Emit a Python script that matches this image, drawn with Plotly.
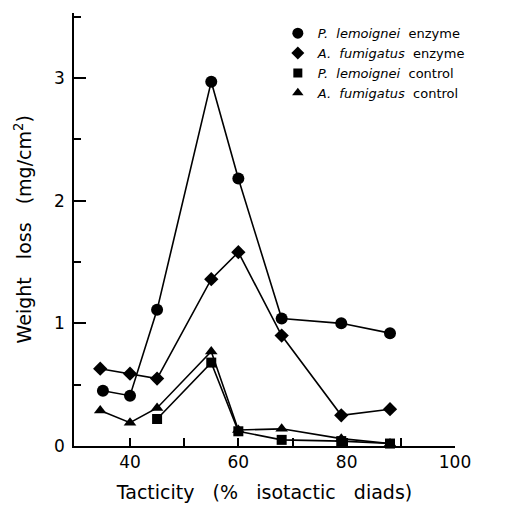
import plotly.graph_objects as go

# Data
x_ple = [35, 40, 45, 55, 60, 68, 79, 88]
y_ple = [0.45, 0.41, 1.11, 2.97, 2.18, 1.04, 1.00, 0.92]

x_afe = [34.5, 40, 45, 55, 60, 68, 79, 88]
y_afe = [0.63, 0.59, 0.55, 1.36, 1.58, 0.90, 0.25, 0.30]

x_plc = [45, 55, 60, 68, 79, 88]
y_plc = [0.22, 0.68, 0.12, 0.05, 0.04, 0.02]

x_afc = [34.5, 40, 45, 55, 60, 68, 79, 88]
y_afc = [0.29, 0.19, 0.31, 0.77, 0.13, 0.14, 0.06, 0.02]

names = ["<i>P.  lemoignei</i>  enzyme", "<i>A.  fumigatus</i>  enzyme",
         "<i>P.  lemoignei</i>  control", "<i>A.  fumigatus</i>  control"]
symbols = ["circle", "diamond", "square", "triangle-up"]
sizes = [12, 11, 10, 11]

x_ticks = [40, 60, 80, 100]
x_minor = [50, 70, 90]
y_ticks = [0, 1, 2, 3]

fig = go.Figure()
series = [(x_ple, y_ple), (x_afe, y_afe), (x_plc, y_plc), (x_afc, y_afc)]
for (xs, ys), sym, sz in zip(series, symbols, sizes):
    fig.add_trace(go.Scatter(x=xs, y=ys, mode="lines+markers",
                             line=dict(color="black", width=1.6),
                             marker=dict(symbol=sym, size=sz, color="black"),
                             showlegend=False, cliponaxis=False))
# legend proxies (markers only)
for name, sym, sz in zip(names, symbols, sizes):
    fig.add_trace(go.Scatter(x=[None], y=[None], mode="markers", name=name,
                             marker=dict(symbol=sym, size=sz - 1, color="black")))

font = "DejaVu Sans"
fig.update_layout(
    width=511, height=500,
    margin=dict(l=66, r=64, t=5, b=62),
    paper_bgcolor="white", plot_bgcolor="white",
    font=dict(family=font, color="black", size=17),
    showlegend=True,
    legend=dict(x=0.535, y=0.988, xanchor="left", yanchor="top",
                font=dict(size=13, family=font), bgcolor="rgba(0,0,0,0)",
                tracegroupgap=0, itemwidth=30),
    xaxis=dict(range=[29.66, 100], showline=True, linecolor="black", linewidth=1.5,
               ticks="inside", ticklen=8, tickwidth=1.5, tickcolor="black",
               tickvals=x_ticks, showgrid=False, zeroline=False,
               minor=dict(tickvals=x_minor, ticks="inside", ticklen=8, tickwidth=1.5,
                          tickcolor="black", showgrid=False),
               title=dict(text="Tacticity   (%   isotactic   diads)", font=dict(size=19), standoff=15)),
    yaxis=dict(range=[0, 3.53], showline=True, linecolor="black", linewidth=1.5,
               ticks="inside", ticklen=12, tickwidth=1.5, tickcolor="black",
               tickvals=y_ticks, showgrid=False, zeroline=False, ticklabelstandoff=4,
               minor=dict(dtick=0.5, tick0=0, ticks="inside", ticklen=7, tickwidth=1.5,
                          tickcolor="black", showgrid=False)),
    annotations=[dict(text="Weight   loss   (mg/cm<sup>2</sup>)", textangle=-90,
                      xref="paper", yref="paper", x=-0.134, y=0.5,
                      xanchor="center", yanchor="middle",
                      showarrow=False, font=dict(size=19))],
)

fig.write_html("out.html")
